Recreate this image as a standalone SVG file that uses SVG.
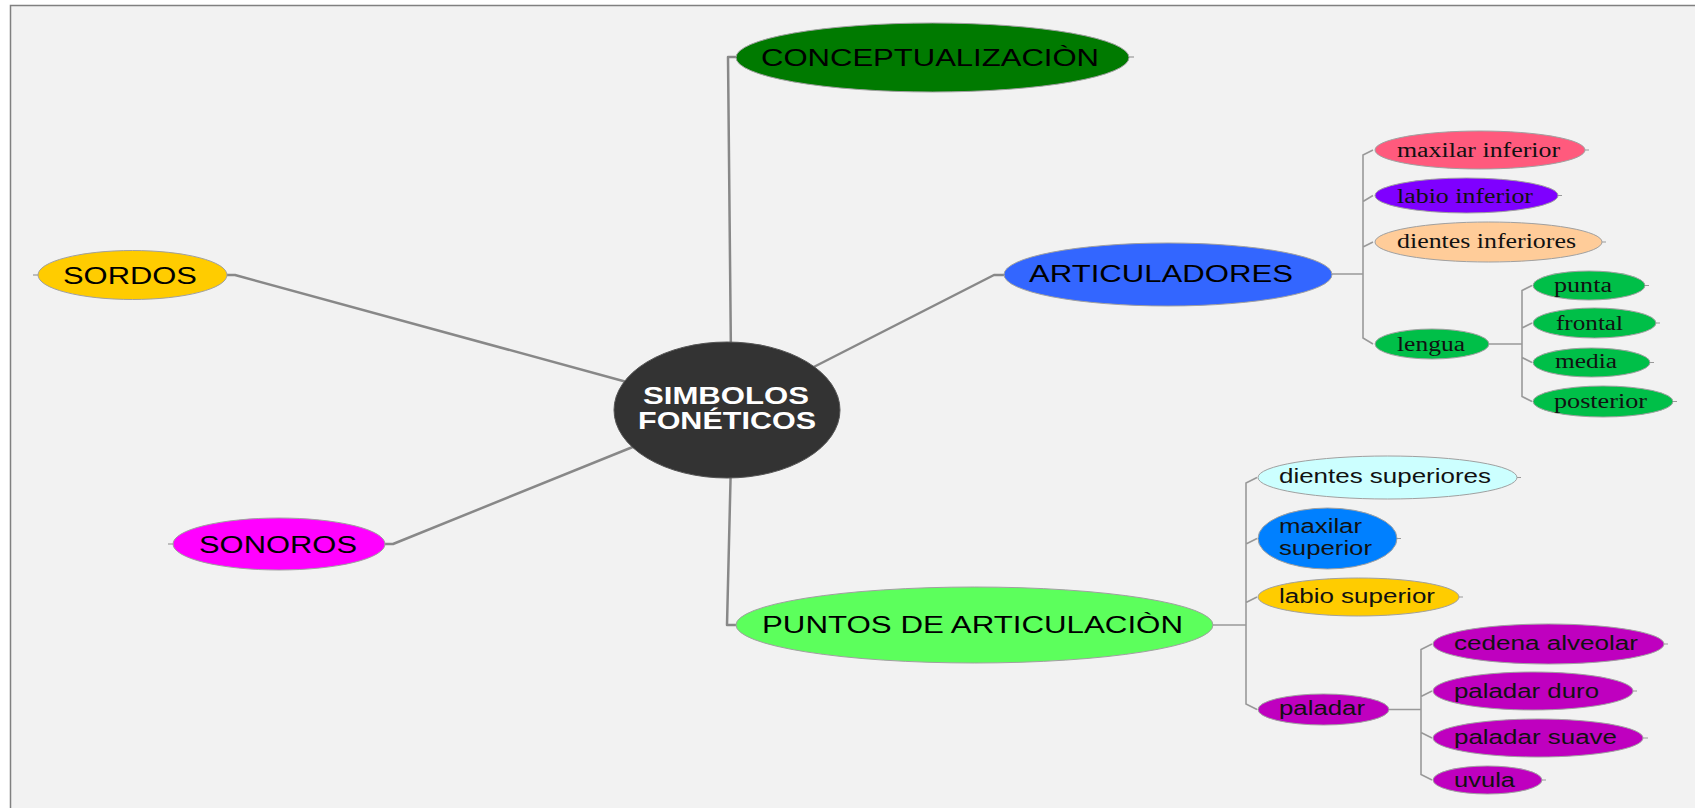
<svg xmlns="http://www.w3.org/2000/svg" width="1695" height="808" viewBox="0 0 1695 808">
<style>
.main{font-family:"Liberation Sans",Arial,sans-serif;font-size:23px;fill:#000}
.center{font-family:"Liberation Sans",Arial,sans-serif;font-size:23px;font-weight:bold;fill:#fff}
.ser{font-family:"Liberation Serif","Times New Roman",serif;font-size:20px;fill:#111}
.san{font-family:"Liberation Sans",Arial,sans-serif;font-size:20px;fill:#111}
.node{stroke:#a0a0a0;stroke-width:1}
.c{fill:none;stroke:#888;stroke-width:2.5;stroke-linejoin:round}
.s{fill:none;stroke:#999;stroke-width:1.6}
.st{fill:none;stroke:#999;stroke-width:1.2}
</style>
<rect x="0" y="0" width="1695" height="808" fill="#fff"/>
<rect x="10.5" y="5.5" width="1700" height="820" fill="#f2f2f2" stroke="#808080" stroke-width="1.5"/>
<g id="connectors">
<path class="c" d="M227,275 L235,275 L645,387"/>
<path class="c" d="M385,544 L393,544 L650,440"/>
<path class="c" d="M731,360 L728,57 L736,57"/>
<path class="c" d="M731,460 L727,625 L736,625"/>
<path class="c" d="M800,374 L994,275 L1004,275"/>
<path class="st" d="M1129,57 L1134,57"/>
<path class="st" d="M38,275 L33,275"/>
<path class="st" d="M173,544 L168,544"/>
<!-- ARTICULADORES bracket -->
<path class="s" d="M1332,274 L1363,274 M1373,150 L1363,155 L1363,338 L1373,344 M1363,201.5 L1373,195.5 M1363,247 L1373,242"/>
<!-- lengua bracket -->
<path class="s" d="M1489,344 L1522,344 M1532,285.5 L1522,290.5 L1522,396.5 L1532,401.5 M1522,328 L1532,323 M1522,357.5 L1532,362.5"/>
<!-- PUNTOS bracket -->
<path class="s" d="M1213,625 L1246,625 M1257,477.5 L1246,483 L1246,704 L1257,709.5 M1246,544 L1257,538.5 M1246,602.5 L1257,597"/>
<!-- paladar bracket -->
<path class="s" d="M1389,709.5 L1421,709.5 M1432,644 L1421,649.5 L1421,774.5 L1432,780 M1421,696.5 L1432,691 M1421,732.5 L1432,738"/>
<!-- leaf stubs -->
<path class="st" d="M1585,150 L1589,150 M1558,195.5 L1562,195.5 M1602,242 L1606,242 M1645,285.5 L1649,285.5 M1656,323 L1660,323 M1650,362.5 L1654,362.5 M1673,401.5 L1677,401.5 M1517,477.5 L1521,477.5 M1397,538.5 L1401,538.5 M1459,597 L1463,597 M1664,644 L1668,644 M1633,691 L1637,691 M1643,738 L1648,738 M1542,780 L1546,780"/>
</g>
<g id="n-center">
<ellipse cx="727" cy="410" rx="113" ry="68" fill="#333333" stroke="#555" stroke-width="1"/>
<text class="center" x="643" y="404" textLength="166" lengthAdjust="spacingAndGlyphs">SIMBOLOS</text>
<text class="center" x="638" y="429" textLength="178" lengthAdjust="spacingAndGlyphs">FONÉTICOS</text>
</g>
<g id="n-sordos">
<ellipse class="node" cx="132.5" cy="275" rx="94.5" ry="24.5" fill="#ffcc00"/>
<text class="main" x="63" y="284" textLength="134" lengthAdjust="spacingAndGlyphs">SORDOS</text>
</g>
<g id="n-sonoros">
<ellipse class="node" cx="279" cy="544" rx="106" ry="26" fill="#ff00ff"/>
<text class="main" x="199" y="553" textLength="158" lengthAdjust="spacingAndGlyphs">SONOROS</text>
</g>
<g id="n-concept">
<ellipse class="node" cx="932.5" cy="57.5" rx="196.5" ry="34.5" fill="#007a00"/>
<text class="main" style="font-size:24px" x="761" y="66" textLength="338" lengthAdjust="spacingAndGlyphs">CONCEPTUALIZACIÒN</text>
</g>
<g id="n-articuladores">
<ellipse class="node" cx="1168" cy="274.5" rx="164" ry="31.5" fill="#3366ff"/>
<text class="main" x="1029" y="282" textLength="264" lengthAdjust="spacingAndGlyphs">ARTICULADORES</text>
</g>
<g id="n-puntos">
<ellipse class="node" cx="974.5" cy="625" rx="238.5" ry="38" fill="#5cff5c"/>
<text class="main" x="762" y="633" textLength="421" lengthAdjust="spacingAndGlyphs">PUNTOS DE ARTICULACIÒN</text>
</g>
<g id="n-maxilar-inferior">
<ellipse class="node" cx="1480" cy="150" rx="105" ry="19" fill="#ff5a7d"/>
<text class="ser" x="1397" y="157" textLength="163" lengthAdjust="spacingAndGlyphs">maxilar inferior</text>
</g>
<g id="n-labio-inferior">
<ellipse class="node" cx="1466.5" cy="195.5" rx="91.5" ry="17.5" fill="#7f00ff"/>
<text class="ser" x="1397" y="203" textLength="136" lengthAdjust="spacingAndGlyphs">labio inferior</text>
</g>
<g id="n-dientes-inferiores">
<ellipse class="node" cx="1488.5" cy="242" rx="113.5" ry="20" fill="#ffcc99"/>
<text class="ser" x="1397" y="248" textLength="179" lengthAdjust="spacingAndGlyphs">dientes inferiores</text>
</g>
<g id="n-lengua">
<ellipse class="node" cx="1432" cy="344" rx="57" ry="15" fill="#00bf48"/>
<text class="ser" x="1397" y="351" textLength="68" lengthAdjust="spacingAndGlyphs">lengua</text>
</g>
<g id="n-punta">
<ellipse class="node" cx="1589" cy="285.5" rx="56" ry="14.5" fill="#00bf48"/>
<text class="ser" x="1554" y="292" textLength="58" lengthAdjust="spacingAndGlyphs">punta</text>
</g>
<g id="n-frontal">
<ellipse class="node" cx="1594.5" cy="323" rx="61.5" ry="15" fill="#00bf48"/>
<text class="ser" x="1556" y="330" textLength="67" lengthAdjust="spacingAndGlyphs">frontal</text>
</g>
<g id="n-media">
<ellipse class="node" cx="1591.5" cy="362.5" rx="58.5" ry="14.5" fill="#00bf48"/>
<text class="ser" x="1555" y="368" textLength="62" lengthAdjust="spacingAndGlyphs">media</text>
</g>
<g id="n-posterior">
<ellipse class="node" cx="1603" cy="401.5" rx="70" ry="15.5" fill="#00bf48"/>
<text class="ser" x="1554" y="408" textLength="93" lengthAdjust="spacingAndGlyphs">posterior</text>
</g>
<g id="n-dientes-superiores">
<ellipse class="node" cx="1387.5" cy="477.5" rx="129.5" ry="21.5" fill="#ccffff"/>
<text class="san" x="1279" y="483" textLength="212" lengthAdjust="spacingAndGlyphs">dientes superiores</text>
</g>
<g id="n-maxilar-superior">
<ellipse class="node" cx="1327.5" cy="538.5" rx="69.5" ry="30.5" fill="#0080ff"/>
<text class="san" x="1279" y="533" textLength="83" lengthAdjust="spacingAndGlyphs">maxilar</text>
<text class="san" x="1279" y="555" textLength="93" lengthAdjust="spacingAndGlyphs">superior</text>
</g>
<g id="n-labio-superior">
<ellipse class="node" cx="1358.5" cy="597" rx="100.5" ry="19" fill="#ffcc00"/>
<text class="san" x="1279" y="603" textLength="156" lengthAdjust="spacingAndGlyphs">labio superior</text>
</g>
<g id="n-paladar">
<ellipse class="node" cx="1323.5" cy="709.5" rx="65.5" ry="15.5" fill="#bf00bf"/>
<text class="san" x="1279" y="715" textLength="86" lengthAdjust="spacingAndGlyphs">paladar</text>
</g>
<g id="n-cedena-alveolar">
<ellipse class="node" cx="1548.5" cy="644" rx="115.5" ry="20" fill="#bf00bf"/>
<text class="san" x="1454" y="650" textLength="184" lengthAdjust="spacingAndGlyphs">cedena alveolar</text>
</g>
<g id="n-paladar-duro">
<ellipse class="node" cx="1533" cy="691" rx="100" ry="19" fill="#bf00bf"/>
<text class="san" x="1454" y="698" textLength="145" lengthAdjust="spacingAndGlyphs">paladar duro</text>
</g>
<g id="n-paladar-suave">
<ellipse class="node" cx="1538" cy="738" rx="105" ry="19" fill="#bf00bf"/>
<text class="san" x="1454" y="744" textLength="163" lengthAdjust="spacingAndGlyphs">paladar suave</text>
</g>
<g id="n-uvula">
<ellipse class="node" cx="1487.5" cy="780" rx="54.5" ry="14" fill="#bf00bf"/>
<text class="san" x="1454" y="787" textLength="61" lengthAdjust="spacingAndGlyphs">uvula</text>
</g>
</svg>
